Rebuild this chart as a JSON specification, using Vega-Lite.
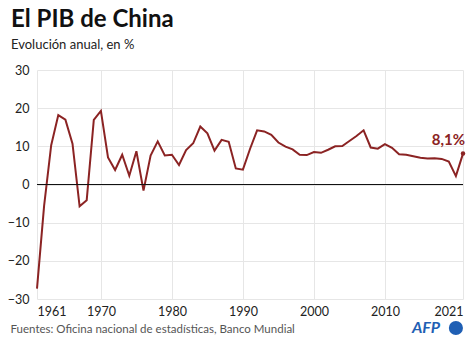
{
  "$schema": "https://vega.github.io/schema/vega-lite/v6.json",
  "autosize": "none",
  "width": 426,
  "height": 229,
  "padding": {"left": 37, "top": 70, "right": 11, "bottom": 44},
  "background": "white",
  "config": {
    "font": "Lato",
    "view": {"stroke": null}
  },
  "title": {
    "text": "El PIB de China",
    "subtitle": "Evolución anual, en %",
    "anchor": "start",
    "frame": "group",
    "dx": -26,
    "fontSize": 24,
    "fontWeight": "bold",
    "color": "#111",
    "subtitleFontSize": 13,
    "subtitleColor": "#222",
    "subtitlePadding": 7,
    "offset": 12
  },
  "data": {
    "values": [
      {"year": 1961, "g": -27.3}, {"year": 1962, "g": -5.6}, {"year": 1963, "g": 10.3}, {"year": 1964, "g": 18.2},
      {"year": 1965, "g": 17.0}, {"year": 1966, "g": 10.7}, {"year": 1967, "g": -5.7}, {"year": 1968, "g": -4.1},
      {"year": 1969, "g": 16.9}, {"year": 1970, "g": 19.3}, {"year": 1971, "g": 7.1}, {"year": 1972, "g": 3.8},
      {"year": 1973, "g": 7.8}, {"year": 1974, "g": 2.3}, {"year": 1975, "g": 8.7}, {"year": 1976, "g": -1.6},
      {"year": 1977, "g": 7.6}, {"year": 1978, "g": 11.3}, {"year": 1979, "g": 7.6}, {"year": 1980, "g": 7.8},
      {"year": 1981, "g": 5.1}, {"year": 1982, "g": 9.0}, {"year": 1983, "g": 10.8}, {"year": 1984, "g": 15.2},
      {"year": 1985, "g": 13.4}, {"year": 1986, "g": 8.9}, {"year": 1987, "g": 11.7}, {"year": 1988, "g": 11.2},
      {"year": 1989, "g": 4.2}, {"year": 1990, "g": 3.9}, {"year": 1991, "g": 9.3}, {"year": 1992, "g": 14.2},
      {"year": 1993, "g": 13.9}, {"year": 1994, "g": 13.0}, {"year": 1995, "g": 11.0}, {"year": 1996, "g": 9.9},
      {"year": 1997, "g": 9.2}, {"year": 1998, "g": 7.8}, {"year": 1999, "g": 7.7}, {"year": 2000, "g": 8.5},
      {"year": 2001, "g": 8.3}, {"year": 2002, "g": 9.1}, {"year": 2003, "g": 10.0}, {"year": 2004, "g": 10.1},
      {"year": 2005, "g": 11.4}, {"year": 2006, "g": 12.7}, {"year": 2007, "g": 14.2}, {"year": 2008, "g": 9.7},
      {"year": 2009, "g": 9.4}, {"year": 2010, "g": 10.6}, {"year": 2011, "g": 9.6}, {"year": 2012, "g": 7.9},
      {"year": 2013, "g": 7.8}, {"year": 2014, "g": 7.4}, {"year": 2015, "g": 7.0}, {"year": 2016, "g": 6.8},
      {"year": 2017, "g": 6.9}, {"year": 2018, "g": 6.7}, {"year": 2019, "g": 6.0}, {"year": 2020, "g": 2.2},
      {"year": 2021, "g": 8.1}
    ]
  },
  "encoding": {
    "x": {"field": "year", "type": "quantitative", "scale": {"domain": [1961, 2021], "nice": false, "zero": false},
      "axis": {"values": [1961, 1970, 1980, 1990, 2000, 2010, 2021], "grid": true, "gridColor": "#e6e6e6", "gridOpacity": 1, "gridWidth": 1, "domain": false, "ticks": false, "format": "d", "labelFlush": true, "labelOverlap": false, "labelPadding": 6, "labelFont": "Lato", "labelFontSize": 12.5, "labelColor": "#222",
        "title": "Fuentes: Oficina nacional de estadísticas, Banco Mundial", "titleFont": "Lato", "titleFontSize": 11.5, "titleFontWeight": "normal", "titleColor": "#555", "titleAnchor": "start", "titleAlign": "left", "titleX": -27, "titlePadding": 6}},
    "y": {"field": "g", "type": "quantitative", "scale": {"domain": [-30, 30], "nice": false},
      "axis": {"values": [-30, -20, -10, 0, 10, 20, 30], "grid": true, "gridColor": "#e6e6e6", "gridOpacity": 1, "gridWidth": 1, "domain": false, "ticks": false, "labelOverlap": false, "labelFlush": false, "labelFont": "Lato", "labelFontSize": 12.5, "labelColor": "#222", "title": null, "labelPadding": 8}}
  },
  "layer": [
    {
      "mark": {"type": "line", "color": "#8b2323", "strokeWidth": 2}
    },
    {
      "data": {"values": [{"year": 1961, "g": 0}, {"year": 2021, "g": 0}]},
      "mark": {"type": "line", "color": "#111", "strokeWidth": 1.2}
    },
    {
      "transform": [{"filter": "datum.year == 2021"}],
      "mark": {"type": "point", "filled": true, "color": "#8b2323", "size": 20, "opacity": 1}
    },
    {
      "transform": [{"filter": "datum.year == 2021"}, {"calculate": "'8,1%'", "as": "lab"}],
      "mark": {"type": "text", "color": "#8b2323", "fontSize": 15, "fontWeight": "bold", "align": "right", "dx": 2, "dy": -14},
      "encoding": {"text": {"field": "lab"}}
    },
    {
      "data": {"values": [{"year": 2013.8, "g": -37.6, "t": "AFP"}]},
      "mark": {"type": "text", "color": "#1f5fb4", "fontSize": 16, "fontWeight": "bold", "fontStyle": "italic", "align": "left", "baseline": "middle"},
      "encoding": {"text": {"field": "t"}}
    },
    {
      "data": {"values": [{"year": 2020.0, "g": -37.6}]},
      "mark": {"type": "point", "filled": true, "color": "#1f5fb4", "size": 200, "opacity": 1}
    }
  ]
}
